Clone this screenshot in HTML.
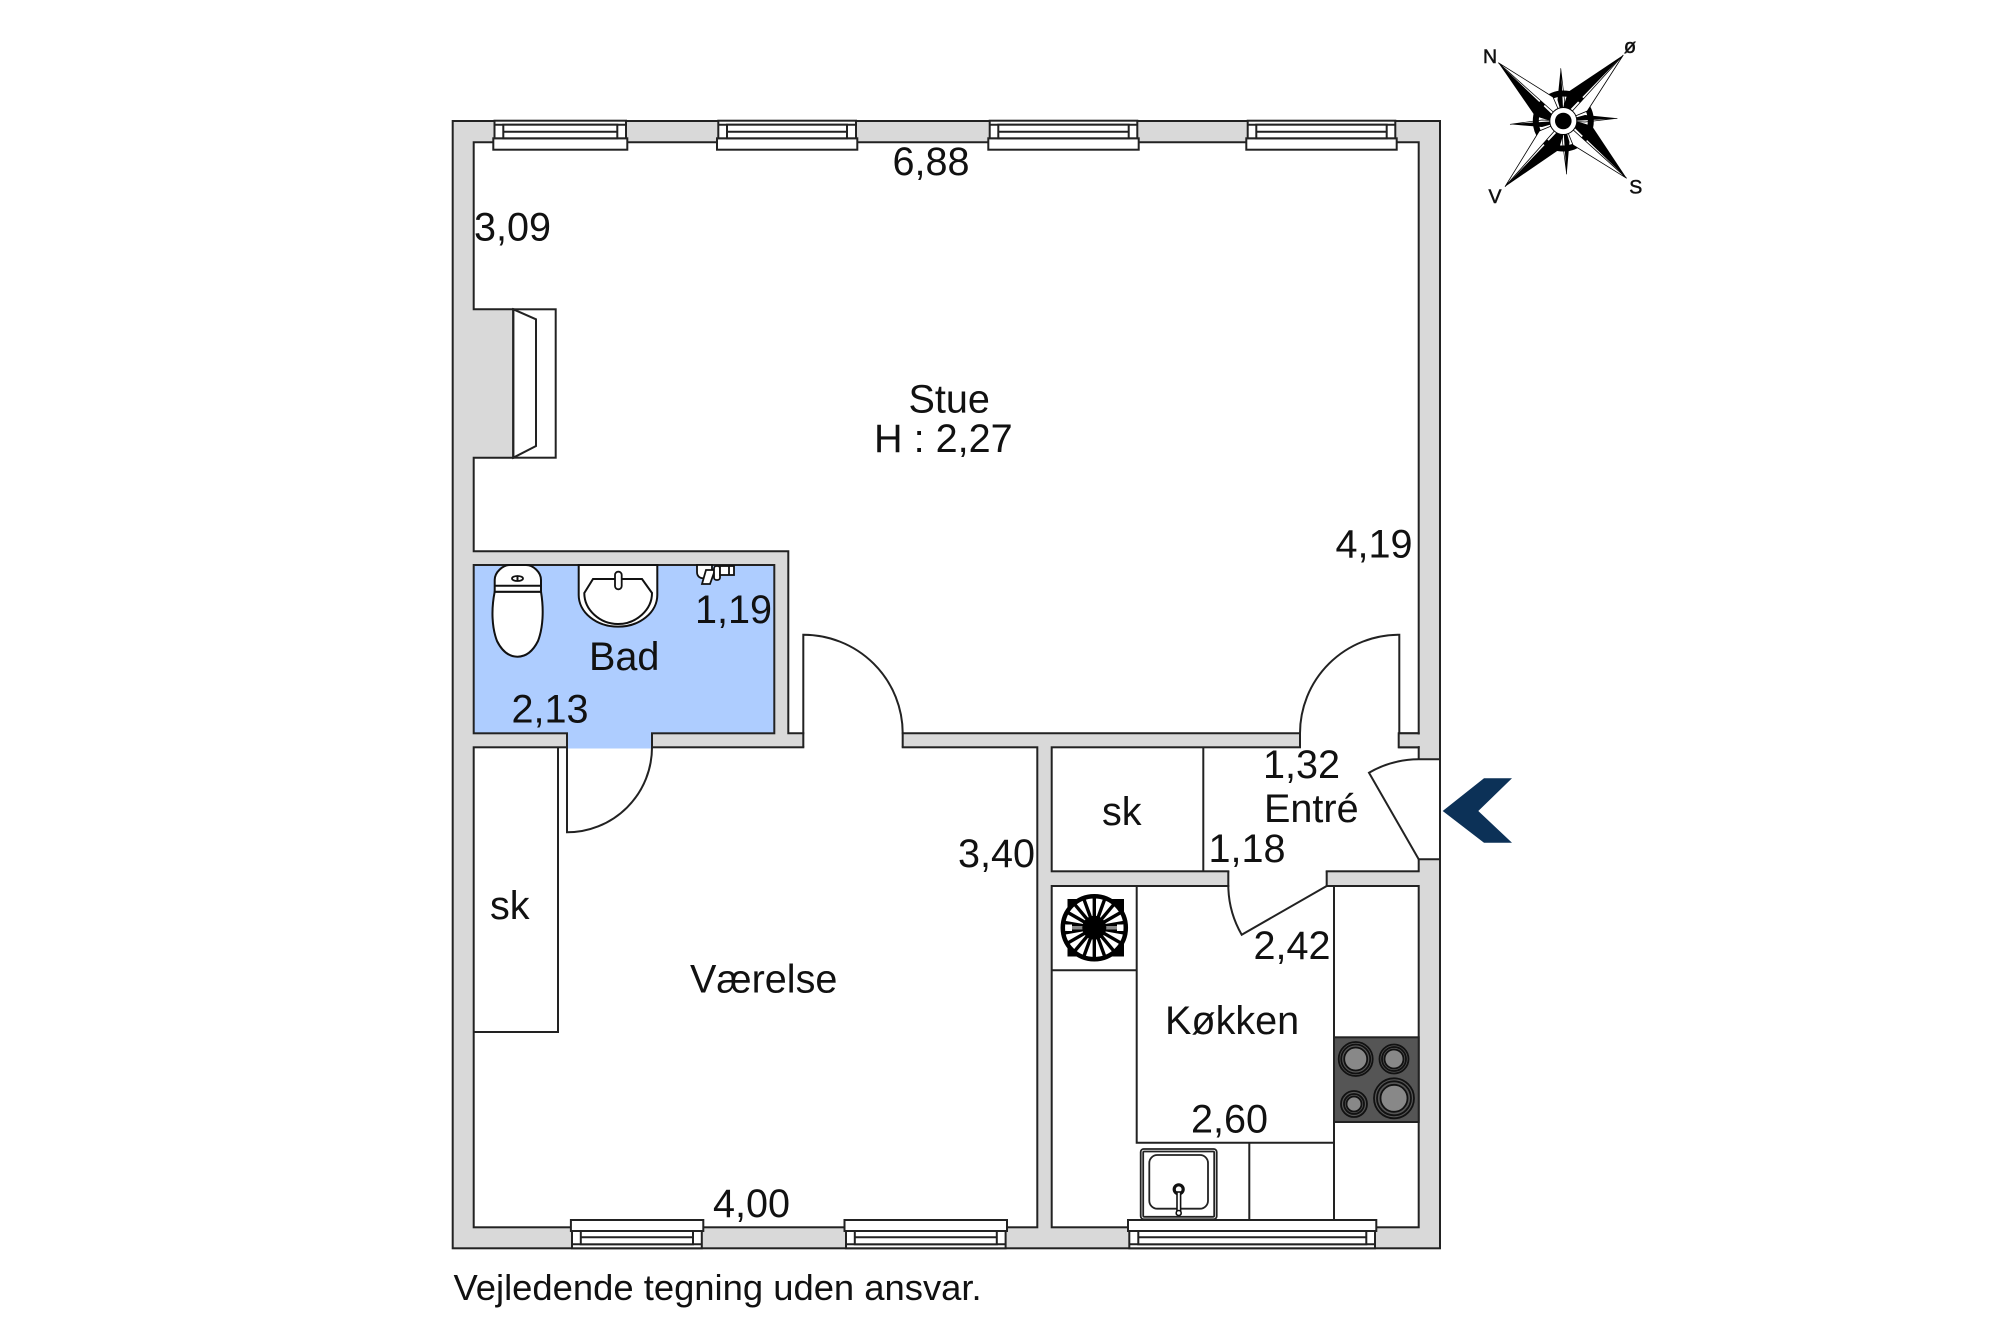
<!DOCTYPE html>
<html lang="da">
<head>
<meta charset="utf-8">
<title>Plantegning</title>
<style>
html,body{margin:0;padding:0;background:#fff;width:2000px;height:1333px;overflow:hidden}
svg{display:block}
text{font-family:"Liberation Sans",sans-serif;font-size:39.6px;fill:#111}
.l{fill:#fff;stroke:#222;stroke-width:2}
.n{fill:none;stroke:#222;stroke-width:2}
.b{stroke:#111;stroke-width:2;fill:none}
</style>
</head>
<body>
<svg xmlns="http://www.w3.org/2000/svg" width="2000" height="1333" viewBox="0 0 2000 1333">
<rect width="2000" height="1333" fill="#fff"/>
<!-- walls -->
<rect x="452.7" y="121" width="987.3" height="1127.3" fill="#d9d9d9" stroke="#222" stroke-width="2"/>
<!-- Stue -->
<polygon class="l" points="473.7,142.3 1418.7,142.3 1418.7,733.3 1398.7,733.3 1300,733.3 902.7,733.3 803.3,733.3 788.3,733.3 788.3,551.3 473.7,551.3 473.7,457.7 513.3,457.7 513.3,309.3 473.7,309.3"/>
<!-- fireplace -->
<rect class="l" x="513.3" y="309.3" width="42.4" height="148.4"/>
<polygon class="n" points="513.3,309.3 536,319.3 536,446 513.3,457.7"/>
<!-- Bad -->
<rect x="473.7" y="565" width="300.6" height="168.3" fill="#aecdff" stroke="#222" stroke-width="2"/>
<!-- Vaerelse -->
<rect class="l" x="473.7" y="747.3" width="563.6" height="480"/>
<polyline class="n" points="558,747.3 558,1032 473.7,1032"/>
<!-- Entre / sk -->
<rect class="l" x="1051.7" y="747.3" width="367" height="124"/>
<line class="n" x1="1203.3" y1="747.3" x2="1203.3" y2="871.3"/>
<!-- Koekken -->
<rect class="l" x="1051.7" y="886" width="367" height="341.3"/>
<polyline class="n" points="1136.7,886 1136.7,1142.7 1334,1142.7"/>
<line class="n" x1="1051.7" y1="970.3" x2="1136.7" y2="970.3"/>
<line class="n" x1="1334" y1="886" x2="1334" y2="1220"/>
<line class="n" x1="1249.3" y1="1142.7" x2="1249.3" y2="1220"/>
<!-- door openings -->
<rect x="568" y="732" width="83" height="16.5" fill="#aecdff"/>
<line class="n" x1="652" y1="733.3" x2="652" y2="747.3"/>
<path class="n" d="M567 733.3V832.3A85 85 0 0 0 652 747.3"/>
<rect x="804.3" y="732" width="97.4" height="17" fill="#fff"/>
<path class="n" d="M803.3 747.3V634.7A99.4 98.6 0 0 1 902.7 733.3V747.3"/>
<rect x="1301" y="732" width="97.3" height="17" fill="#fff"/>
<path class="n" d="M1399.3 747.3V634.7A99.3 98.6 0 0 0 1300 733.3V747.3"/>
<rect x="1398.7" y="733.3" width="20" height="14" fill="#d9d9d9" stroke="#222" stroke-width="2"/>
<rect x="1417" y="734.5" width="4" height="11.6" fill="#d9d9d9"/>
<rect x="1229.3" y="870" width="96.4" height="17" fill="#fff"/>
<path class="n" d="M1228.3 871.3V886A100 100 0 0 0 1241.7 934.7L1326.7 886V871.3"/>
<rect x="1417" y="760" width="22" height="99" fill="#fff"/>
<path class="n" d="M1418.7 759.3H1440M1418.7 859.3H1440"/>
<path class="n" d="M1418.7 759.3A100 100 0 0 0 1369 772.7L1418.7 859.3"/>
<!-- windows top -->
<g>
<rect class="l" x="493.3" y="138.3" width="134" height="11.4"/><rect class="l" x="494.5" y="120.7" width="131.5" height="17.6"/><line class="n" x1="494.5" y1="124.7" x2="626" y2="124.7"/><rect class="l" x="503.3" y="124.7" width="114" height="13.6"/><line class="n" x1="503.3" y1="131.7" x2="617.3" y2="131.7"/>
<rect class="l" x="717" y="138.3" width="140.3" height="11.4"/><rect class="l" x="718.3" y="120.7" width="137.7" height="17.6"/><line class="n" x1="718.3" y1="124.7" x2="856" y2="124.7"/><rect class="l" x="727" y="124.7" width="120" height="13.6"/><line class="n" x1="727" y1="131.7" x2="847" y2="131.7"/>
<rect class="l" x="988.3" y="138.3" width="150.4" height="11.4"/><rect class="l" x="989.7" y="120.7" width="147.6" height="17.6"/><line class="n" x1="989.7" y1="124.7" x2="1137.3" y2="124.7"/><rect class="l" x="998.3" y="124.7" width="130.4" height="13.6"/><line class="n" x1="998.3" y1="131.7" x2="1128.7" y2="131.7"/>
<rect class="l" x="1246.3" y="138.3" width="150.4" height="11.4"/><rect class="l" x="1247.7" y="120.7" width="147.6" height="17.6"/><line class="n" x1="1247.7" y1="124.7" x2="1395.3" y2="124.7"/><rect class="l" x="1256.3" y="124.7" width="130.4" height="13.6"/><line class="n" x1="1256.3" y1="131.7" x2="1386.7" y2="131.7"/>
</g>
<!-- windows bottom -->
<g>
<rect class="l" x="570.9" y="1220" width="132.4" height="11"/><rect class="l" x="572" y="1231" width="129.8" height="17.3"/><line class="n" x1="572" y1="1244.3" x2="701.8" y2="1244.3"/><rect class="l" x="580.8" y="1231" width="112.2" height="13.3"/><line class="n" x1="580.8" y1="1237.3" x2="693" y2="1237.3"/>
<rect class="l" x="844.5" y="1220" width="162.5" height="11"/><rect class="l" x="846" y="1231" width="159.6" height="17.3"/><line class="n" x1="846" y1="1244.3" x2="1005.6" y2="1244.3"/><rect class="l" x="854.8" y="1231" width="142" height="13.3"/><line class="n" x1="854.8" y1="1237.3" x2="996.8" y2="1237.3"/>
<rect class="l" x="1128" y="1220" width="248.3" height="11"/><rect class="l" x="1129.3" y="1231" width="245.7" height="17.3"/><line class="n" x1="1129.3" y1="1244.3" x2="1375" y2="1244.3"/><rect class="l" x="1138.3" y="1231" width="228" height="13.3"/><line class="n" x1="1138.3" y1="1237.3" x2="1366.3" y2="1237.3"/>
</g>
<!-- toilet -->
<path class="b" style="fill:#fff" d="M494.7 591.7C491 610 492 628 497 641C502 651 509 656.7 517.5 656.7C526 656.7 533 651 538 641C543 628 544 610 541 591.7Z"/>
<path class="b" style="fill:#fff" d="M494.7 591.7V580C494.7 572 503 565 510 565H526C533 565 541 572 541 580V591.7Z"/>
<line class="b" x1="494.7" y1="585.7" x2="541" y2="585.7"/>
<ellipse cx="517.5" cy="578.5" rx="5.5" ry="2.5" fill="#fff" stroke="#111" stroke-width="1.8"/>
<line x1="517.5" y1="576" x2="517.5" y2="581" stroke="#111" stroke-width="2"/>
<!-- basin -->
<path class="b" style="fill:#fff" d="M578.7 565V595A39.3 31.7 0 0 0 657.3 595V565Z"/>
<path class="b" style="fill:#fff" d="M593 579H642L652 593C652 610 636 624 618 624C600 624 584.3 610 584.3 593Z"/>
<rect x="615" y="571.7" width="6.7" height="17.6" rx="3.3" fill="#fff" stroke="#111" stroke-width="1.8"/>
<!-- mixer -->
<g stroke="#111" stroke-width="1.8" fill="#fff">
<path d="M697 565V572C697 577 701 579 705 578L712 574V565Z"/>
<path d="M706 570H715L710 584H702Z"/>
<rect x="714" y="566" width="6" height="14" rx="2.5"/>
<rect x="720" y="566" width="14" height="9"/>
<line x1="729" y1="566" x2="729" y2="575"/>
</g>
<!-- fan -->
<rect x="1067.5" y="899" width="56.5" height="57.5" fill="#000"/>
<circle cx="1094.3" cy="927.7" r="31.5" fill="#fff" stroke="#000" stroke-width="4.5"/>
<g stroke="#000" stroke-width="3.4">
<line x1="1094.3" y1="896" x2="1094.3" y2="959.4"/>
<line x1="1094.3" y1="896" x2="1094.3" y2="959.4" transform="rotate(20 1094.3 927.7)"/>
<line x1="1094.3" y1="896" x2="1094.3" y2="959.4" transform="rotate(40 1094.3 927.7)"/>
<line x1="1094.3" y1="896" x2="1094.3" y2="959.4" transform="rotate(60 1094.3 927.7)"/>
<line x1="1094.3" y1="896" x2="1094.3" y2="959.4" transform="rotate(80 1094.3 927.7)"/>
<line x1="1094.3" y1="896" x2="1094.3" y2="959.4" transform="rotate(100 1094.3 927.7)"/>
<line x1="1094.3" y1="896" x2="1094.3" y2="959.4" transform="rotate(120 1094.3 927.7)"/>
<line x1="1094.3" y1="896" x2="1094.3" y2="959.4" transform="rotate(140 1094.3 927.7)"/>
<line x1="1094.3" y1="896" x2="1094.3" y2="959.4" transform="rotate(160 1094.3 927.7)"/>
</g>
<rect x="1068" y="924" width="53" height="7.5" fill="#000"/>
<rect x="1071" y="926" width="47" height="3.5" fill="#888"/>
<rect x="1066.5" y="924.5" width="5.5" height="6.5" fill="#fff"/>
<rect x="1117" y="924.5" width="5.5" height="6.5" fill="#fff"/>
<circle cx="1094.3" cy="927.7" r="12" fill="#000"/>
<!-- hob -->
<rect x="1334" y="1037.3" width="84.7" height="84.7" fill="#555" stroke="#222" stroke-width="2"/>
<g stroke="#111" stroke-width="1.8" fill="none">
<circle cx="1355.7" cy="1059" r="17"/><circle cx="1355.7" cy="1059" r="14.5"/><circle cx="1355.7" cy="1059" r="11.5" fill="#888"/>
<circle cx="1394" cy="1059" r="14.5"/><circle cx="1394" cy="1059" r="12"/><circle cx="1394" cy="1059" r="9.5" fill="#888"/>
<circle cx="1354" cy="1104" r="13"/><circle cx="1354" cy="1104" r="10"/><circle cx="1354" cy="1104" r="7.5" fill="#888"/>
<circle cx="1394" cy="1098.3" r="20"/><circle cx="1394" cy="1098.3" r="17"/><circle cx="1394" cy="1098.3" r="13.5" fill="#888"/>
</g>
<!-- sink -->
<rect x="1140.7" y="1149" width="76" height="70.3" rx="3" fill="#fff" stroke="#222" stroke-width="1.8"/>
<rect x="1143.2" y="1151.5" width="71" height="65.3" rx="1" fill="#fff" stroke="#222" stroke-width="1.8"/>
<rect x="1149.3" y="1155" width="58.7" height="53.7" rx="8" fill="#fff" stroke="#222" stroke-width="1.8"/>
<circle cx="1178.7" cy="1189.3" r="4.5" fill="#fff" stroke="#111" stroke-width="3.2"/>
<rect x="1177" y="1192" width="3.6" height="20" fill="#fff" stroke="#111" stroke-width="1.6"/>
<circle cx="1178.7" cy="1213" r="2.5" fill="#fff" stroke="#111" stroke-width="1.6"/>
<!-- entrance chevron -->
<polygon points="1512,778.3 1484,778.3 1442.7,811 1484,842.7 1512,842.7 1478.3,811" fill="#0c3157"/>
<!-- compass -->
<g>
<polygon fill="#000" points="1560.7,68.3 1557.5,100 1563.3,121"/><polygon fill="#fff" stroke="#000" stroke-width=".7" points="1560.7,68.3 1564.5,100 1563.3,121"/>
<polygon fill="#000" points="1566.7,174.3 1569.5,142 1563.3,121"/><polygon fill="#fff" stroke="#000" stroke-width=".7" points="1566.7,174.3 1562.5,142 1563.3,121"/>
<polygon fill="#000" points="1510,124.3 1542,127 1563.3,121"/><polygon fill="#fff" stroke="#000" stroke-width=".7" points="1510,124.3 1542,120 1563.3,121"/>
<polygon fill="#000" points="1617.3,118.3 1585,115 1563.3,121"/><polygon fill="#fff" stroke="#000" stroke-width=".7" points="1617.3,118.3 1585,122 1563.3,121"/>
</g>
<circle cx="1563.3" cy="121" r="27.5" fill="none" stroke="#000" stroke-width="6"/>
<g>
<polygon fill="#000" points="1498.3,62.7 1535,116 1563.3,125"/><polygon fill="#fff" stroke="#000" stroke-width=".8" points="1498.3,62.7 1553,97 1563.3,121"/>
<polygon fill="#000" points="1623.3,55 1568,92 1559,121"/><polygon fill="#fff" stroke="#000" stroke-width=".8" points="1623.3,55 1587.3,111 1563.3,121"/>
<polygon fill="#000" points="1626.7,178.3 1592,126 1563.3,117"/><polygon fill="#fff" stroke="#000" stroke-width=".8" points="1626.7,178.3 1573,145 1563.3,121"/>
<polygon fill="#000" points="1505,186.7 1558.6,150 1567.5,121"/><polygon fill="#fff" stroke="#000" stroke-width=".8" points="1505,186.7 1539.3,131 1563.3,121"/>
</g>
<circle cx="1563.3" cy="121" r="13.5" fill="#fff" stroke="#000" stroke-width="1"/>
<circle cx="1563.3" cy="121" r="8.3" fill="#000"/>
<text x="1490" y="63" text-anchor="middle" stroke="#111" stroke-width=".5" style="font-size:19.5px">N</text>
<text x="1630" y="53" text-anchor="middle" stroke="#111" stroke-width=".5" style="font-size:20px">ø</text>
<text x="1635.7" y="193.5" text-anchor="middle" stroke="#111" stroke-width=".5" style="font-size:19.5px">S</text>
<text x="1495" y="203" text-anchor="middle" stroke="#111" stroke-width=".5" style="font-size:19.5px">V</text>
<!-- labels -->
<text x="892.5" y="175">6,88</text>
<text x="474" y="240.5">3,09</text>
<text x="908.5" y="412.5">Stue</text>
<text x="874" y="452">H : 2,27</text>
<text x="1335.5" y="557.5">4,19</text>
<text x="695" y="623">1,19</text>
<text x="589" y="670">Bad</text>
<text x="511.5" y="722.7">2,13</text>
<text x="490" y="919">sk</text>
<text x="690" y="992.5">Værelse</text>
<text x="958" y="867">3,40</text>
<text x="1263" y="778">1,32</text>
<text x="1264" y="822">Entré</text>
<text x="1102" y="825">sk</text>
<text x="1208.5" y="862">1,18</text>
<text x="1253.5" y="959">2,42</text>
<text x="1165" y="1034">Køkken</text>
<text x="1191" y="1132.7">2,60</text>
<text x="713" y="1217">4,00</text>
<text x="453.5" y="1300" style="font-size:36.4px">Vejledende tegning uden ansvar.</text>
</svg>
</body>
</html>
